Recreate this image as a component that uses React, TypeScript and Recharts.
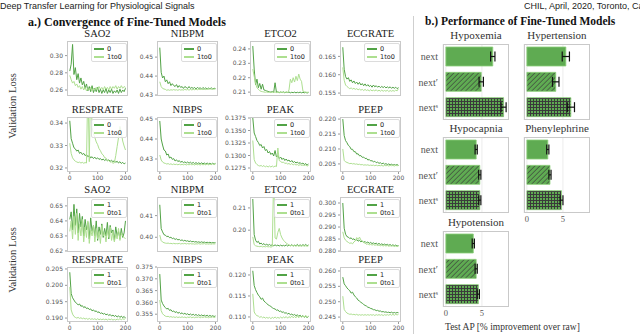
import React from "react";
import { LineChart, Line, XAxis, YAxis, BarChart, Bar, Cell, ErrorBar, CartesianGrid } from "recharts";

// epochs sampled along the fine-tuning run
const epochs = [0, 5, 10, 15, 20, 25, 30, 35, 40, 45, 50, 55, 60, 65, 70, 75, 80, 85, 90, 95, 100, 105, 110, 115, 120, 125, 130, 135, 140, 145, 150, 155, 160, 165, 170, 175, 180, 185, 190, 195, 200];

// ---- top block: source 0 vs 1to0 ----
const sao2Base0 = [0.282, 0.29, 0.313, 0.278, 0.286, 0.272, 0.279, 0.268, 0.274, 0.266, 0.27, 0.262, 0.267, 0.259, 0.264, 0.258, 0.265, 0.257, 0.262, 0.258, 0.263, 0.257, 0.261, 0.256, 0.26, 0.257, 0.262, 0.256, 0.26, 0.257, 0.261, 0.256, 0.259, 0.257, 0.26, 0.256, 0.261, 0.257, 0.26, 0.258, 0.262];
const sao2Tuned1to0 = [0.277, 0.272, 0.268, 0.27, 0.265, 0.267, 0.263, 0.265, 0.261, 0.264, 0.26, 0.263, 0.259, 0.262, 0.26, 0.263, 0.259, 0.262, 0.26, 0.263, 0.26, 0.264, 0.261, 0.263, 0.26, 0.264, 0.261, 0.263, 0.26, 0.264, 0.261, 0.264, 0.262, 0.265, 0.261, 0.264, 0.262, 0.265, 0.262, 0.264, 0.263];
const nibpmBase0 = [0.455, 0.442, 0.439, 0.44, 0.437, 0.438, 0.436, 0.437, 0.435, 0.436, 0.435, 0.4345, 0.4355, 0.434, 0.435, 0.434, 0.4345, 0.4335, 0.4345, 0.434, 0.4335, 0.4345, 0.4335, 0.434, 0.4335, 0.434, 0.4332, 0.434, 0.4335, 0.4338, 0.4332, 0.434, 0.4333, 0.4338, 0.4332, 0.4337, 0.4333, 0.4338, 0.4332, 0.4336, 0.4334];
const nibpmTuned1to0 = [0.437, 0.4345, 0.4335, 0.4332, 0.433, 0.4325, 0.4328, 0.4325, 0.4328, 0.4326, 0.4329, 0.4326, 0.4328, 0.4325, 0.4329, 0.4326, 0.4328, 0.4326, 0.433, 0.4327, 0.4329, 0.4326, 0.433, 0.4327, 0.433, 0.4328, 0.4331, 0.4328, 0.4331, 0.4329, 0.4332, 0.4329, 0.4331, 0.4329, 0.4332, 0.433, 0.4333, 0.433, 0.4332, 0.4331, 0.4333];
const etco2Base0 = [0.242, 0.226, 0.215, 0.219, 0.213, 0.216, 0.212, 0.2155, 0.2115, 0.2112, 0.2108, 0.2105, 0.2102, 0.21, 0.2104, 0.2098, 0.2165, 0.2098, 0.2102, 0.2096, 0.2101, 0.2097, 0.2102, 0.2095, 0.21, 0.2097, 0.2101, 0.2095, 0.2099, 0.2096, 0.21, 0.2095, 0.2099, 0.2096, 0.21, 0.2095, 0.2099, 0.2095, 0.2098, 0.2094, 0.2097];
const etco2Tuned1to0 = [0.226, 0.221, 0.216, 0.213, 0.212, 0.211, 0.2105, 0.2103, 0.2101, 0.2099, 0.2101, 0.2098, 0.21, 0.2097, 0.21, 0.2098, 0.2101, 0.2097, 0.21, 0.2098, 0.2101, 0.2097, 0.21, 0.2098, 0.2101, 0.2097, 0.2115, 0.219, 0.2165, 0.22, 0.217, 0.221, 0.218, 0.2225, 0.219, 0.2175, 0.2108, 0.2102, 0.21, 0.2098, 0.2101];
const ecgrateBase0 = [0.1675, 0.1615, 0.1595, 0.1588, 0.1592, 0.1582, 0.1586, 0.1578, 0.1583, 0.1576, 0.158, 0.1574, 0.1579, 0.1572, 0.1576, 0.157, 0.1575, 0.1569, 0.1573, 0.1568, 0.1571, 0.1566, 0.1572, 0.1567, 0.157, 0.1566, 0.1569, 0.1565, 0.1568, 0.1565, 0.1568, 0.1564, 0.1567, 0.1564, 0.1567, 0.1563, 0.1566, 0.1563, 0.1566, 0.1562, 0.1565];
const ecgrateTuned1to0 = [0.162, 0.1585, 0.1572, 0.1568, 0.1565, 0.1562, 0.1564, 0.1561, 0.1563, 0.156, 0.1562, 0.1559, 0.1561, 0.1558, 0.156, 0.1557, 0.156, 0.1557, 0.1559, 0.1556, 0.1559, 0.1556, 0.1558, 0.1556, 0.1559, 0.1555, 0.1558, 0.1555, 0.1558, 0.1555, 0.1557, 0.1555, 0.1558, 0.1554, 0.1557, 0.1555, 0.1557, 0.1555, 0.1558, 0.1556, 0.1562];
const resprateBase0 = [0.341, 0.333, 0.331, 0.329, 0.3285, 0.3275, 0.328, 0.3265, 0.327, 0.326, 0.3265, 0.3255, 0.326, 0.325, 0.3255, 0.3245, 0.325, 0.3242, 0.3248, 0.324, 0.3245, 0.3238, 0.3242, 0.3235, 0.324, 0.3233, 0.3238, 0.3232, 0.3236, 0.323, 0.3234, 0.3228, 0.3232, 0.3225, 0.323, 0.3222, 0.3228, 0.322, 0.3225, 0.3218, 0.3222];
const resprateTuned1to0 = [0.331, 0.3265, 0.3245, 0.3236, 0.323, 0.3227, 0.3224, 0.3226, 0.3222, 0.3225, 0.3221, 0.3224, 0.3222, 0.36, 0.3228, 0.36, 0.338, 0.3352, 0.3336, 0.3316, 0.3304, 0.3286, 0.3277, 0.3263, 0.3258, 0.3246, 0.3244, 0.3234, 0.3233, 0.3226, 0.3227, 0.3221, 0.3223, 0.3255, 0.3295, 0.3335, 0.3385, 0.3355, 0.332, 0.3298, 0.328];
const nibpsBase0 = [0.449, 0.44, 0.437, 0.4345, 0.434, 0.432, 0.4325, 0.4305, 0.431, 0.4298, 0.4302, 0.429, 0.4296, 0.4287, 0.4292, 0.4283, 0.4289, 0.4281, 0.4286, 0.428, 0.4285, 0.4279, 0.4284, 0.4278, 0.4283, 0.4277, 0.4282, 0.4277, 0.4281, 0.4276, 0.4281, 0.4276, 0.428, 0.4275, 0.428, 0.4275, 0.4279, 0.4274, 0.4279, 0.4274, 0.4278];
const nibpsTuned1to0 = [0.432, 0.4295, 0.4285, 0.428, 0.4278, 0.4275, 0.4277, 0.4273, 0.4276, 0.4272, 0.4275, 0.4272, 0.4274, 0.4271, 0.4274, 0.4271, 0.4273, 0.4271, 0.4274, 0.427, 0.4273, 0.4271, 0.4274, 0.4271, 0.4273, 0.427, 0.4274, 0.4271, 0.4273, 0.427, 0.4274, 0.4271, 0.4273, 0.4271, 0.4275, 0.4271, 0.4274, 0.4272, 0.4276, 0.4272, 0.4275];
const peakBase0 = [0.1375, 0.1345, 0.1338, 0.133, 0.1326, 0.132, 0.1322, 0.1315, 0.1318, 0.131, 0.1312, 0.1305, 0.1308, 0.1302, 0.1305, 0.1299, 0.131, 0.1297, 0.13, 0.1294, 0.1297, 0.1292, 0.1295, 0.129, 0.1293, 0.1289, 0.1291, 0.1287, 0.129, 0.1286, 0.1288, 0.1285, 0.1287, 0.1284, 0.1286, 0.1283, 0.1285, 0.1282, 0.1284, 0.1281, 0.1283];
const peakTuned1to0 = [0.133, 0.1292, 0.1285, 0.1282, 0.128, 0.1279, 0.128, 0.1278, 0.128, 0.1277, 0.1279, 0.1277, 0.1279, 0.1277, 0.1279, 0.1277, 0.1279, 0.1278, 0.1315, 0.129, 0.1288, 0.1286, 0.1287, 0.1284, 0.1285, 0.1283, 0.1284, 0.1282, 0.1284, 0.1281, 0.1283, 0.1281, 0.1282, 0.128, 0.1282, 0.128, 0.1281, 0.128, 0.1281, 0.1279, 0.128];
const peepBase0 = [0.22, 0.2145, 0.2128, 0.2121, 0.2112, 0.2108, 0.2099, 0.2099, 0.2091, 0.2091, 0.2083, 0.2084, 0.2077, 0.2078, 0.2072, 0.2073, 0.2068, 0.2069, 0.2063, 0.2065, 0.206, 0.2061, 0.2057, 0.2059, 0.2054, 0.2056, 0.2052, 0.2054, 0.205, 0.2053, 0.2049, 0.2051, 0.2048, 0.205, 0.2047, 0.2049, 0.2046, 0.2048, 0.2046, 0.2048, 0.2045];
const peepTuned1to0 = [0.21, 0.2062, 0.2057, 0.2055, 0.2053, 0.2051, 0.2052, 0.205, 0.2051, 0.2049, 0.205, 0.2048, 0.2049, 0.2047, 0.2048, 0.2046, 0.2047, 0.2046, 0.2047, 0.2045, 0.2046, 0.2045, 0.2046, 0.2044, 0.2046, 0.2044, 0.2045, 0.2044, 0.2045, 0.2043, 0.2045, 0.2044, 0.2045, 0.2043, 0.2045, 0.2044, 0.2045, 0.2043, 0.2045, 0.2044, 0.2045];

// ---- bottom block: source 1 vs 0to1 ----
const sao2Base1 = [0.641, 0.646, 0.634, 0.651, 0.637, 0.648, 0.632, 0.645, 0.636, 0.643, 0.63, 0.641, 0.634, 0.639, 0.628, 0.642, 0.633, 0.637, 0.63, 0.64, 0.627, 0.636, 0.631, 0.638, 0.629, 0.635, 0.63, 0.639, 0.628, 0.637, 0.632, 0.634, 0.627, 0.636, 0.63, 0.633, 0.628, 0.635, 0.629, 0.632, 0.64];
const sao2Tuned0to1 = [0.633, 0.64, 0.628, 0.643, 0.631, 0.645, 0.627, 0.638, 0.63, 0.641, 0.626, 0.636, 0.629, 0.64, 0.625, 0.634, 0.63, 0.637, 0.626, 0.635, 0.628, 0.633, 0.625, 0.637, 0.63, 0.632, 0.626, 0.634, 0.629, 0.636, 0.627, 0.633, 0.626, 0.631, 0.628, 0.635, 0.627, 0.632, 0.63, 0.629, 0.628];
const nibpmBase1 = [0.415, 0.404, 0.4025, 0.4012, 0.401, 0.4003, 0.4005, 0.3998, 0.4, 0.3994, 0.3996, 0.399, 0.3993, 0.3988, 0.399, 0.3985, 0.3988, 0.3983, 0.3986, 0.3982, 0.3984, 0.398, 0.3983, 0.3979, 0.3981, 0.3978, 0.398, 0.3977, 0.3979, 0.3976, 0.3979, 0.3976, 0.3978, 0.3975, 0.3977, 0.3975, 0.3977, 0.3974, 0.3976, 0.3974, 0.3976];
const nibpmTuned0to1 = [0.401, 0.3985, 0.3978, 0.3975, 0.3973, 0.3972, 0.3973, 0.3971, 0.3972, 0.397, 0.3972, 0.397, 0.3971, 0.397, 0.3972, 0.3969, 0.3971, 0.397, 0.3972, 0.3969, 0.3971, 0.3969, 0.3971, 0.3969, 0.397, 0.3968, 0.397, 0.3969, 0.3971, 0.3968, 0.397, 0.3969, 0.3971, 0.3968, 0.397, 0.3968, 0.397, 0.3968, 0.397, 0.3969, 0.397];
const etco2Base1 = [0.214, 0.198, 0.1955, 0.1945, 0.195, 0.1938, 0.1942, 0.1935, 0.194, 0.1933, 0.1937, 0.1932, 0.1936, 0.1931, 0.1935, 0.193, 0.1934, 0.193, 0.1933, 0.1929, 0.1933, 0.1929, 0.1932, 0.1929, 0.1934, 0.1929, 0.1933, 0.193, 0.1935, 0.1929, 0.1933, 0.193, 0.1936, 0.193, 0.1934, 0.193, 0.1935, 0.1931, 0.1936, 0.193, 0.1934];
const etco2Tuned0to1 = [0.197, 0.1935, 0.193, 0.1928, 0.1927, 0.1926, 0.1928, 0.1925, 0.1927, 0.1925, 0.1927, 0.1925, 0.1926, 0.1924, 0.1926, 0.225, 0.1965, 0.196, 0.199, 0.2008, 0.198, 0.1965, 0.1955, 0.1948, 0.1942, 0.1938, 0.1933, 0.193, 0.1932, 0.1929, 0.1931, 0.1928, 0.1931, 0.1928, 0.193, 0.1928, 0.1931, 0.1928, 0.193, 0.1928, 0.193];
const ecgrateBase1 = [0.3, 0.2895, 0.287, 0.286, 0.2858, 0.2852, 0.2855, 0.2848, 0.2851, 0.2844, 0.2847, 0.2841, 0.2845, 0.2838, 0.2842, 0.2836, 0.284, 0.2834, 0.2838, 0.2832, 0.2836, 0.2831, 0.2834, 0.283, 0.2833, 0.2828, 0.2832, 0.2827, 0.283, 0.2826, 0.2829, 0.2825, 0.2828, 0.2824, 0.2827, 0.2823, 0.2826, 0.2822, 0.2825, 0.2821, 0.2823];
const ecgrateTuned0to1 = [0.288, 0.2855, 0.2845, 0.284, 0.2836, 0.2832, 0.2834, 0.283, 0.2838, 0.2842, 0.2856, 0.2848, 0.2858, 0.2846, 0.284, 0.2835, 0.2833, 0.2828, 0.283, 0.2826, 0.2828, 0.2825, 0.2827, 0.2824, 0.2826, 0.2823, 0.2825, 0.2822, 0.2824, 0.2821, 0.2823, 0.2821, 0.2823, 0.282, 0.2822, 0.282, 0.2822, 0.2819, 0.2821, 0.2819, 0.282];
const resprateBase1 = [0.204, 0.1975, 0.1962, 0.1955, 0.1948, 0.1945, 0.194, 0.1943, 0.1936, 0.1938, 0.1932, 0.1935, 0.1929, 0.1931, 0.1926, 0.1928, 0.1922, 0.1925, 0.192, 0.1922, 0.1917, 0.1919, 0.1914, 0.1916, 0.1912, 0.1914, 0.191, 0.1912, 0.1908, 0.1911, 0.1906, 0.1909, 0.1905, 0.1908, 0.1903, 0.1907, 0.1902, 0.1906, 0.1901, 0.1905, 0.19];
const resprateTuned0to1 = [0.1995, 0.1925, 0.1912, 0.1905, 0.1902, 0.19, 0.1902, 0.1899, 0.1901, 0.1898, 0.19, 0.1897, 0.1899, 0.1896, 0.1899, 0.1896, 0.1898, 0.1896, 0.1898, 0.1895, 0.1898, 0.1895, 0.1897, 0.1895, 0.1897, 0.1895, 0.1897, 0.1894, 0.1897, 0.1895, 0.1897, 0.1894, 0.1896, 0.1894, 0.1897, 0.1895, 0.1898, 0.1895, 0.1898, 0.1896, 0.1899];
const nibpsBase1 = [0.372, 0.361, 0.3595, 0.3585, 0.3578, 0.3572, 0.3575, 0.3566, 0.3569, 0.3561, 0.3564, 0.3557, 0.3561, 0.3554, 0.3558, 0.3552, 0.3556, 0.355, 0.3554, 0.3549, 0.3552, 0.3547, 0.3551, 0.3546, 0.355, 0.3545, 0.3549, 0.3544, 0.3548, 0.3543, 0.3547, 0.3543, 0.3546, 0.3542, 0.3546, 0.3541, 0.3545, 0.3541, 0.3544, 0.354, 0.3543];
const nibpsTuned0to1 = [0.361, 0.3565, 0.3552, 0.3546, 0.3542, 0.354, 0.3541, 0.3538, 0.354, 0.3537, 0.3539, 0.3536, 0.3539, 0.3536, 0.3538, 0.3536, 0.3539, 0.3536, 0.3538, 0.3535, 0.3538, 0.3536, 0.3539, 0.3535, 0.3538, 0.3535, 0.3538, 0.3536, 0.3539, 0.3535, 0.3538, 0.3536, 0.3539, 0.3536, 0.3538, 0.3535, 0.3538, 0.3536, 0.3539, 0.3536, 0.3538];
const peakBase1 = [0.121, 0.1175, 0.1165, 0.1158, 0.1152, 0.1148, 0.1142, 0.1145, 0.1138, 0.1135, 0.1132, 0.1129, 0.1127, 0.1125, 0.1122, 0.112, 0.1119, 0.1116, 0.1117, 0.1113, 0.1114, 0.1111, 0.1112, 0.1109, 0.111, 0.1107, 0.1109, 0.1105, 0.1107, 0.1104, 0.1106, 0.1103, 0.1105, 0.1102, 0.1104, 0.1101, 0.1103, 0.1099, 0.1102, 0.1098, 0.1101];
const peakTuned0to1 = [0.1155, 0.1112, 0.1106, 0.1103, 0.1102, 0.1099, 0.1101, 0.1098, 0.11, 0.1097, 0.1099, 0.1097, 0.1099, 0.1096, 0.1099, 0.1097, 0.11, 0.1097, 0.1099, 0.1097, 0.11, 0.1097, 0.11, 0.1098, 0.1101, 0.1097, 0.1101, 0.1098, 0.1102, 0.1098, 0.1101, 0.1098, 0.1103, 0.1098, 0.1102, 0.1099, 0.1103, 0.1099, 0.1104, 0.1099, 0.1102];
const peepBase1 = [0.258, 0.2558, 0.2552, 0.2545, 0.254, 0.2536, 0.2528, 0.2531, 0.2522, 0.2516, 0.2512, 0.2505, 0.2502, 0.2498, 0.2495, 0.2491, 0.2488, 0.2486, 0.2482, 0.2481, 0.2478, 0.2477, 0.2474, 0.2474, 0.2471, 0.2472, 0.2469, 0.247, 0.2467, 0.2468, 0.2466, 0.2467, 0.2465, 0.2466, 0.2464, 0.2466, 0.2463, 0.2465, 0.2463, 0.2465, 0.2464];
const peepTuned0to1 = [0.2518, 0.2475, 0.2468, 0.2463, 0.2461, 0.2459, 0.246, 0.2458, 0.2459, 0.2457, 0.2459, 0.2456, 0.2458, 0.2456, 0.2458, 0.2456, 0.2458, 0.2456, 0.2458, 0.2456, 0.2458, 0.2456, 0.2458, 0.2455, 0.2458, 0.2456, 0.2458, 0.2456, 0.2458, 0.2455, 0.2458, 0.2456, 0.2458, 0.2456, 0.2459, 0.2456, 0.2459, 0.2456, 0.2459, 0.2457, 0.2459];

const epochTicks = [0, 100, 200];

// ---- b.) test AP improvement over raw ----
const modelNames = ["next", "next\u2032", "next\u02e2"];
const hypoxemiaGain = [6.5, 4.9, 8.0];
const hypoxemiaErr = [0.3, 0.3, 0.35];
const hypertensionGain = [5.4, 4.0, 6.1];
const hypertensionErr = [0.5, 0.45, 0.5];
const hypocapniaGain = [4.2, 4.7, 4.7];
const hypocapniaErr = [0.15, 0.15, 0.15];
const phenylephrineGain = [2.9, 3.2, 4.8];
const phenylephrineErr = [0.15, 0.15, 0.2];
const hypotensionGain = [3.8, 4.2, 4.5];
const hypotensionErr = [0.15, 0.15, 0.15];
const gainTicks = [0, 5];

const DARK = "#52a346";
const LIGHT = "#addf90";
const SERIF = "'Liberation Serif', 'DejaVu Serif', serif";
const SANS = "'DejaVu Sans', sans-serif";

type LossSpec = {
  title: string;
  base: number[];
  tuned: number[];
  domain: [number, number];
  ticks: number[];
  dp: number;
};

const topRow1: LossSpec[] = [
  { title: "SAO2", base: sao2Base0, tuned: sao2Tuned1to0, domain: [0.253, 0.317], ticks: [0.26, 0.28, 0.3], dp: 2 },
  { title: "NIBPM", base: nibpmBase0, tuned: nibpmTuned1to0, domain: [0.4295, 0.4585], ticks: [0.43, 0.44, 0.45], dp: 2 },
  { title: "ETCO2", base: etco2Base0, tuned: etco2Tuned1to0, domain: [0.2073, 0.2455], ticks: [0.21, 0.22, 0.23, 0.24], dp: 2 },
  { title: "ECGRATE", base: ecgrateBase0, tuned: ecgrateTuned1to0, domain: [0.1542, 0.1692], ticks: [0.155, 0.16, 0.165], dp: 3 },
];
const topRow2: LossSpec[] = [
  { title: "RESPRATE", base: resprateBase0, tuned: resprateTuned1to0, domain: [0.3182, 0.3427], ticks: [0.32, 0.33, 0.34], dp: 2 },
  { title: "NIBPS", base: nibpsBase0, tuned: nibpsTuned1to0, domain: [0.4235, 0.451], ticks: [0.43, 0.44, 0.45], dp: 2 },
  { title: "PEAK", base: peakBase0, tuned: peakTuned1to0, domain: [0.1267, 0.1377], ticks: [0.1275, 0.13, 0.1325, 0.135, 0.1375], dp: 4 },
  { title: "PEEP", base: peepBase0, tuned: peepTuned1to0, domain: [0.2023, 0.2207], ticks: [0.205, 0.21, 0.215, 0.22], dp: 3 },
];
const botRow1: LossSpec[] = [
  { title: "SAO2", base: sao2Base1, tuned: sao2Tuned0to1, domain: [0.6193, 0.6559], ticks: [0.62, 0.63, 0.64, 0.65], dp: 2 },
  { title: "NIBPM", base: nibpmBase1, tuned: nibpmTuned0to1, domain: [0.3932, 0.4186], ticks: [0.4, 0.41], dp: 2 },
  { title: "ETCO2", base: etco2Base1, tuned: etco2Tuned0to1, domain: [0.1902, 0.2149], ticks: [0.2, 0.21], dp: 2 },
  { title: "ECGRATE", base: ecgrateBase1, tuned: ecgrateTuned0to1, domain: [0.2796, 0.3025], ticks: [0.28, 0.285, 0.29, 0.295, 0.3], dp: 3 },
];
const botRow2: LossSpec[] = [
  { title: "RESPRATE", base: resprateBase1, tuned: resprateTuned0to1, domain: [0.1888, 0.2056], ticks: [0.19, 0.195, 0.2, 0.205], dp: 3 },
  { title: "NIBPS", base: nibpsBase1, tuned: nibpsTuned0to1, domain: [0.3517, 0.375], ticks: [0.355, 0.36, 0.365, 0.37, 0.375], dp: 3 },
  { title: "PEAK", base: peakBase1, tuned: peakTuned0to1, domain: [0.1088, 0.1219], ticks: [0.11, 0.115, 0.12], dp: 3 },
  { title: "PEEP", base: peepBase1, tuned: peepTuned0to1, domain: [0.2434, 0.2613], ticks: [0.245, 0.25, 0.255, 0.26], dp: 3 },
];

const colX = [67, 157, 250, 340];
const BOX_W = 61;
const BOX_H = 55;
const YW = 34;
const PAD_R = 10;
const PAD_V = 5;

function LossPanel({ spec, x, y, showX, names }: { spec: LossSpec; x: number; y: number; showX: boolean; names: string[] }) {
  const rows = epochs.map((e, i) => ({ epoch: e, base: spec.base[i], tuned: spec.tuned[i] }));
  const bottom = showX ? 0 : PAD_V;
  return (
    <>
      <div style={{ position: "absolute", left: x - 10, top: y - 13, width: BOX_W + 20, textAlign: "center", fontFamily: SERIF, fontSize: 10.5, lineHeight: "12px", color: "#222" }}>{spec.title}</div>
      <div style={{ position: "absolute", left: x - YW, top: y - PAD_V }}>
        <LineChart width={YW + BOX_W + PAD_R} height={PAD_V + BOX_H + (showX ? 12 : PAD_V)} data={rows} margin={{ top: PAD_V, right: PAD_R, bottom, left: 0 }}>
          <XAxis dataKey="epoch" type="number" domain={[-10, 209]} ticks={epochTicks} allowDataOverflow hide={!showX} height={12}
            tick={{ fontSize: 6, fill: "#555", fontFamily: SANS }} tickSize={2} tickLine={{ stroke: "#999" }} axisLine={false} interval={0} />
          <YAxis type="number" domain={spec.domain} ticks={spec.ticks} allowDataOverflow width={YW} interval={0}
            tick={{ fontSize: 6, fill: "#555", fontFamily: SANS }} tickSize={2} tickMargin={2} tickLine={{ stroke: "#999" }} axisLine={false}
            tickFormatter={(v: number) => v.toFixed(spec.dp)} />
          <Line dataKey="base" stroke={DARK} strokeWidth={1} dot={false} isAnimationActive={false} />
          <Line dataKey="tuned" stroke={LIGHT} strokeWidth={1} dot={false} isAnimationActive={false} />
        </LineChart>
      </div>
      <div style={{ position: "absolute", left: x, top: y, width: BOX_W, height: BOX_H, border: "1px solid #c9c9c9", boxSizing: "border-box", pointerEvents: "none" }} />
      <div style={{ position: "absolute", left: x + 24, top: y + 2, width: 36, height: 19, border: "1px solid #dcdcdc", borderRadius: 2, background: "rgba(255,255,255,0.8)", boxSizing: "border-box" }}>
        {names.map((n, i) => (
          <div key={n} style={{ position: "absolute", left: 2, top: 1 + i * 8, height: 8, display: "flex", alignItems: "center" }}>
            <div style={{ width: 10, height: 1.2, background: i === 0 ? DARK : LIGHT }} />
            <span style={{ marginLeft: 3, fontFamily: SANS, fontSize: 6.5, color: "#222" }}>{n}</span>
          </div>
        ))}
      </div>
    </>
  );
}

function Patterns({ id }: { id: string }) {
  return (
    <defs>
      <pattern id={`diag-${id}`} patternUnits="userSpaceOnUse" width="3.5" height="3.5" patternTransform="rotate(45)">
        <rect width="3.5" height="3.5" fill="#5fab52" />
        <line x1="0" y1="0" x2="0" y2="3.5" stroke="#3a3a3a" strokeWidth="1.2" />
      </pattern>
      <pattern id={`grid-${id}`} patternUnits="userSpaceOnUse" width="3" height="3">
        <rect width="3" height="3" fill="#5fab52" />
        <line x1="0" y1="0.5" x2="3" y2="0.5" stroke="#3a3a3a" strokeWidth="1" />
        <line x1="0.5" y1="0" x2="0.5" y2="3" stroke="#3a3a3a" strokeWidth="1" />
      </pattern>
    </defs>
  );
}

const BAR_W = 66;
const BAR_H = 76;
const LABEL_W = 30;

function GainPanel({ id, title, gain, err, x, y, showX, showLabels }: { id: string; title: string; gain: number[]; err: number[]; x: number; y: number; showX: boolean; showLabels: boolean }) {
  const rows = modelNames.map((m, i) => ({ model: m, gain: gain[i], err: err[i] }));
  const fills = ["#5fab52", `url(#diag-${id})`, `url(#grid-${id})`];
  return (
    <>
      <div style={{ position: "absolute", left: x - 15, top: y - 15, width: BAR_W + 30, textAlign: "center", fontFamily: SERIF, fontSize: 11, lineHeight: "13px", color: "#333" }}>{title}</div>
      <div style={{ position: "absolute", left: x - LABEL_W, top: y }}>
        <BarChart width={LABEL_W + BAR_W} height={BAR_H + (showX ? 12 : 0)} data={rows} layout="vertical" margin={{ top: 0, right: 0, bottom: 0, left: 0 }} barCategoryGap={3}>
          <Patterns id={id} />
          <CartesianGrid horizontal={false} stroke="#ececec" />
          <XAxis type="number" domain={[-0.4, 8.75]} ticks={gainTicks} allowDataOverflow hide={!showX} height={12} interval={0}
            tick={{ fontSize: 8.5, fill: "#555", fontFamily: SERIF }} tickLine={false} axisLine={false} tickSize={0} tickMargin={3} />
          <YAxis type="category" dataKey="model" width={LABEL_W} tickLine={false} axisLine={false} tickSize={0} tickMargin={5}
            tick={showLabels ? { fontSize: 10, fill: "#555", fontFamily: SERIF } : false} />
          <Bar dataKey="gain" barSize={19} stroke="#8ccf78" strokeWidth={0.8} isAnimationActive={false}>
            {rows.map((r, i) => <Cell key={r.model} fill={fills[i]} />)}
            <ErrorBar dataKey="err" direction="x" width={5} stroke="#111" strokeWidth={1.2} />
          </Bar>
        </BarChart>
      </div>
      <div style={{ position: "absolute", left: x, top: y, width: BAR_W, height: BAR_H, border: "1px solid #c9c9c9", boxSizing: "border-box", pointerEvents: "none" }} />
    </>
  );
}

export default function App() {
  return (
    <div style={{ position: "absolute", left: 0, top: 0, width: 640, height: 334, background: "#fff", overflow: "hidden" }}>
      <div style={{ position: "absolute", left: 0, top: 1, fontFamily: "'Liberation Sans', sans-serif", fontSize: 9, color: "#222", whiteSpace: "nowrap" }}>Deep Transfer Learning for Physiological Signals</div>
      <div style={{ position: "absolute", left: 524, top: 1, width: 116, overflow: "hidden", fontFamily: "'Liberation Sans', sans-serif", fontSize: 9, color: "#222", whiteSpace: "nowrap" }}>CHIL, April, 2020, Toronto, Canada</div>

      <div style={{ position: "absolute", left: 28, top: 15, fontFamily: SERIF, fontWeight: "bold", fontSize: 12, color: "#111", whiteSpace: "nowrap" }}>a.) Convergence of Fine-Tuned Models</div>
      <div style={{ position: "absolute", left: 425, top: 15, fontFamily: SERIF, fontWeight: "bold", fontSize: 11.5, color: "#111", whiteSpace: "nowrap" }}>b.) Performance of Fine-Tuned Models</div>
      <div style={{ position: "absolute", left: 413, top: 16, width: 1, height: 318, background: "#cfcfcf" }} />

      <div style={{ position: "absolute", left: 12, top: 106, transform: "translate(-50%, -50%) rotate(-90deg)", fontFamily: SERIF, fontSize: 10.5, color: "#333", whiteSpace: "nowrap" }}>Validation Loss</div>
      <div style={{ position: "absolute", left: 12, top: 260, transform: "translate(-50%, -50%) rotate(-90deg)", fontFamily: SERIF, fontSize: 10.5, color: "#333", whiteSpace: "nowrap" }}>Validation Loss</div>

      {topRow1.map((s, i) => <LossPanel key={"a" + i} spec={s} x={colX[i]} y={41} showX={false} names={["0", "1to0"]} />)}
      {topRow2.map((s, i) => <LossPanel key={"b" + i} spec={s} x={colX[i]} y={117} showX={true} names={["0", "1to0"]} />)}
      {botRow1.map((s, i) => <LossPanel key={"c" + i} spec={s} x={colX[i]} y={197} showX={false} names={["1", "0to1"]} />)}
      {botRow2.map((s, i) => <LossPanel key={"d" + i} spec={s} x={colX[i]} y={267} showX={true} names={["1", "0to1"]} />)}

      <GainPanel id="hx" title="Hypoxemia" gain={hypoxemiaGain} err={hypoxemiaErr} x={443} y={44} showX={false} showLabels={true} />
      <GainPanel id="ht" title="Hypertension" gain={hypertensionGain} err={hypertensionErr} x={524} y={44} showX={false} showLabels={false} />
      <GainPanel id="hc" title="Hypocapnia" gain={hypocapniaGain} err={hypocapniaErr} x={443} y={137} showX={false} showLabels={true} />
      <GainPanel id="ph" title="Phenylephrine" gain={phenylephrineGain} err={phenylephrineErr} x={524} y={137} showX={true} showLabels={false} />
      <GainPanel id="hp" title="Hypotension" gain={hypotensionGain} err={hypotensionErr} x={443} y={231} showX={true} showLabels={true} />
      <div style={{ position: "absolute", left: 445, top: 322, fontFamily: SERIF, fontSize: 9.5, lineHeight: "11px", color: "#333", whiteSpace: "nowrap" }}>Test AP [% improvement over raw]</div>
    </div>
  );
}
